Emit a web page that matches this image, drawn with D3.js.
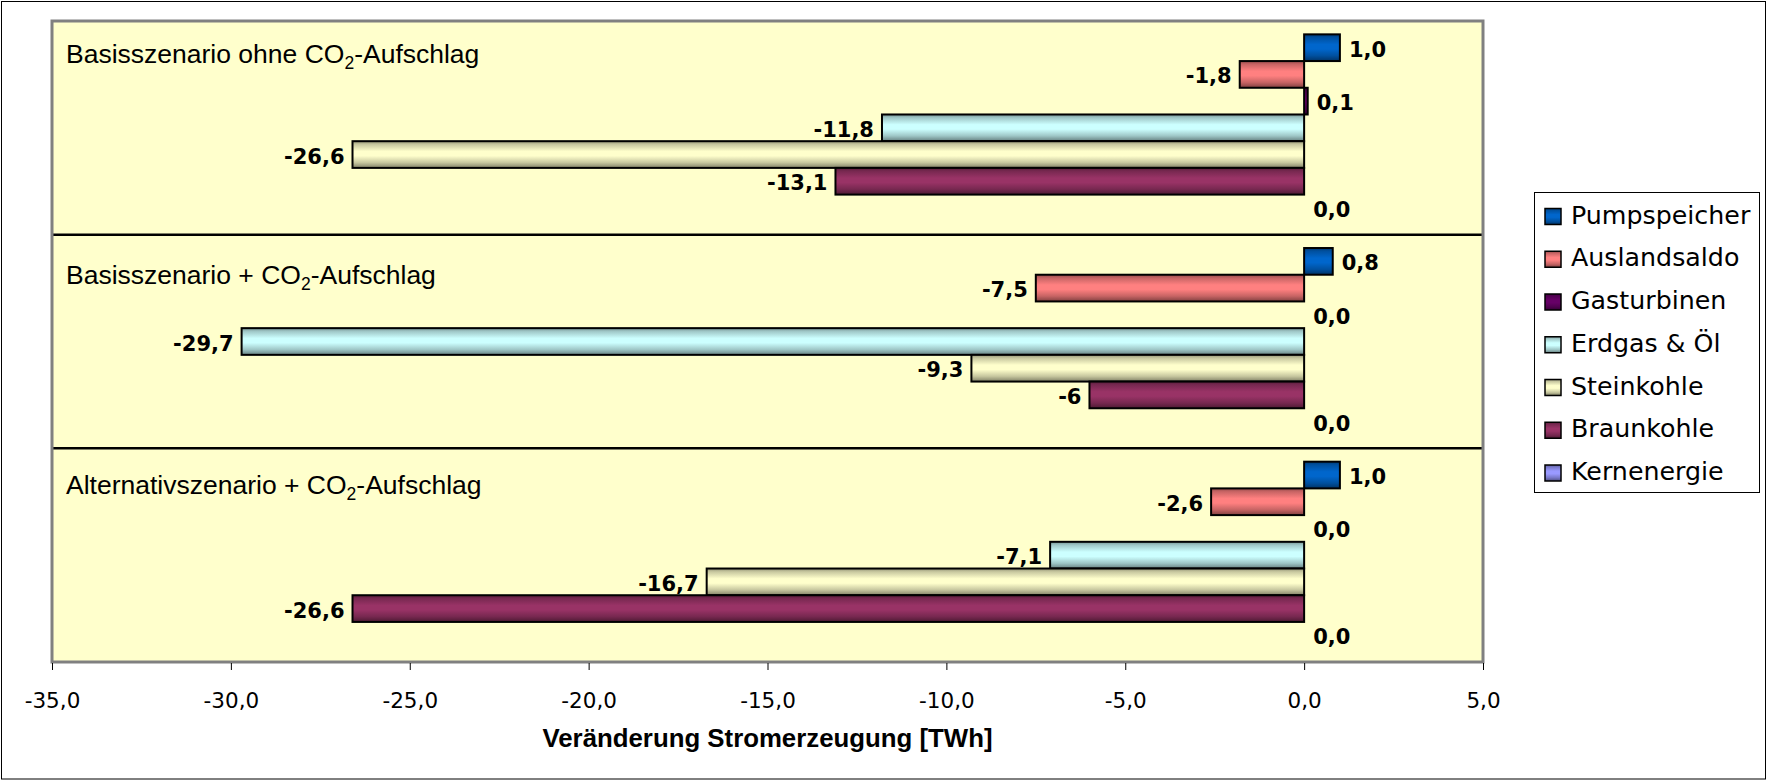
<!DOCTYPE html>
<html>
<head>
<meta charset="utf-8">
<script src="https://cdn.jsdelivr.net/npm/d3@7"></script>
<style>
  body { margin: 0; background: #ffffff; }
  svg { display: block; }
</style>
</head>
<body>
<svg id="chart" width="1768" height="781"></svg>
<script>
// Scenarios (one panel each), top to bottom
const scenarios = [
  "Basisszenario ohne CO2-Aufschlag",
  "Basisszenario + CO2-Aufschlag",
  "Alternativszenario + CO2-Aufschlag"
];

// Generation technologies, in bar order within each panel
const seriesNames = ["Pumpspeicher", "Auslandsaldo", "Gasturbinen", "Erdgas & Öl", "Steinkohle", "Braunkohle", "Kernenergie"];

// Change in generation [TWh] per scenario, written as printed
const pumpspeicher = ["1,0", "0,8", "1,0"];
const auslandsaldo = ["-1,8", "-7,5", "-2,6"];
const gasturbinen  = ["0,1", "0,0", "0,0"];
const erdgasOel    = ["-11,8", "-29,7", "-7,1"];
const steinkohle   = ["-26,6", "-9,3", "-16,7"];
const braunkohle   = ["-13,1", "-6", "-26,6"];
const kernenergie  = ["0,0", "0,0", "0,0"];

// Axis tick values
const xTicks = [-35, -30, -25, -20, -15, -10, -5, 0, 5];
const xTitle = "Veränderung Stromerzeugung [TWh]";

// Series fill colours
const seriesColors = ["#0066CC", "#FF8080", "#660066", "#CCFFFF", "#FFFFCC", "#993366", "#9999FF"];

const seriesValues = [pumpspeicher, auslandsaldo, gasturbinen, erdgasOel, steinkohle, braunkohle, kernenergie];
const parseNum = s => +s.replace(",", ".");

const rows = [];
scenarios.forEach((sc, i) => {
  seriesNames.forEach((name, j) => {
    const label = seriesValues[j][i];
    rows.push({ scenario: sc, series: name, idx: j, label, value: parseNum(label) });
  });
});

const W = 1768, H = 781;
const plot = { left: 52, right: 1483, top: 21, bottom: 662 };
// Baseline of each panel title below the top of its panel
const panelTitleDrop = [41.5, 49, 46];

const svg = d3.select("#chart");

const locale = d3.formatLocale({ decimal: ",", thousands: ".", grouping: [3], currency: ["", " €"], minus: "-" });
const fmt = locale.format(".1f");

const x = d3.scaleLinear().domain([-35, 5]).range([plot.left, plot.right]);
const y0 = d3.scaleBand().domain(scenarios).range([plot.top, plot.bottom]).paddingInner(0).paddingOuter(0);
const y1 = d3.scaleBand().domain(seriesNames).range([0, y0.bandwidth()]).paddingInner(0).paddingOuter(0.5);

// Shaded fills: darker edges, light band in the upper middle
const defs = svg.append("defs");
seriesColors.forEach((c, j) => {
  const g = defs.append("linearGradient")
    .attr("id", "grad" + j)
    .attr("x1", 0).attr("y1", 0).attr("x2", 0).attr("y2", 1);
  const shade = t => d3.interpolateRgb(c, "#000000")(t);
  [[0, 0.42], [0.12, 0.22], [0.38, 0], [0.55, 0], [0.8, 0.22], [1, 0.5]].forEach(([o, t]) => {
    g.append("stop").attr("offset", o).attr("stop-color", shade(t));
  });
});

// Outer frame
svg.append("rect")
  .attr("x", 1.5).attr("y", 1.5)
  .attr("width", W - 4).attr("height", H - 3.5)
  .attr("fill", "#ffffff").attr("stroke", "#000000").attr("stroke-width", 1);

// Plot area background
svg.append("rect")
  .attr("x", plot.left).attr("y", plot.top)
  .attr("width", plot.right - plot.left).attr("height", plot.bottom - plot.top)
  .attr("fill", "#FFFFCC");

// Bars
const barG = svg.append("g");
barG.selectAll("rect")
  .data(rows.filter(d => d.value !== 0))
  .join("rect")
  .attr("x", d => Math.min(x(0), x(d.value)))
  .attr("y", d => y0(d.scenario) + y1(d.series))
  .attr("width", d => Math.abs(x(d.value) - x(0)))
  .attr("height", y1.bandwidth())
  .attr("fill", d => `url(#grad${d.idx})`)
  .attr("stroke", "#000000")
  .attr("stroke-width", 2);

// Value labels
svg.append("g").selectAll("text")
  .data(rows)
  .join("text")
  .attr("x", d => d.value >= 0 ? x(d.value) + 9 : x(d.value) - 8)
  .attr("y", d => y0(d.scenario) + y1(d.series) + y1.bandwidth() / 2 + 9)
  .attr("text-anchor", d => d.value >= 0 ? "start" : "end")
  .attr("font-family", "DejaVu Sans")
  .attr("font-weight", "bold")
  .attr("font-size", 21)
  .attr("fill", "#000000")
  .text(d => d.label);

// Panel separators
svg.append("g").selectAll("line")
  .data(scenarios.slice(1))
  .join("line")
  .attr("x1", plot.left).attr("x2", plot.right)
  .attr("y1", d => y0(d)).attr("y2", d => y0(d))
  .attr("stroke", "#000000").attr("stroke-width", 2.5);

// Panel titles with subscript in CO2
const titles = svg.append("g").selectAll("text")
  .data(scenarios)
  .join("text")
  .attr("x", 66)
  .attr("y", (d, i) => y0(d) + panelTitleDrop[i])
  .attr("font-family", "Liberation Sans, Arial, sans-serif")
  .attr("font-size", 26.5)
  .attr("fill", "#000000");
titles.each(function(d) {
  const t = d3.select(this);
  const [pre, post] = d.split("CO2");
  t.append("tspan").text(pre + "CO");
  t.append("tspan").attr("font-size", 17.5).attr("dy", 6).text("2");
  t.append("tspan").attr("dy", -6).text(post);
});

// Plot area border
svg.append("rect")
  .attr("x", plot.left).attr("y", plot.top)
  .attr("width", plot.right - plot.left).attr("height", plot.bottom - plot.top)
  .attr("fill", "none").attr("stroke", "#808080").attr("stroke-width", 3);

// X axis
const axisG = svg.append("g")
  .attr("transform", `translate(0,${plot.bottom})`)
  .call(d3.axisBottom(x).tickValues(xTicks).tickSize(8).tickFormat(fmt));
axisG.select(".domain").remove();
axisG.selectAll(".tick line").attr("stroke", "#000000").attr("stroke-width", 1).attr("y1", 1);
axisG.selectAll(".tick text")
  .attr("y", 46).attr("dy", 0)
  .attr("font-family", "DejaVu Sans")
  .attr("font-size", 21.5)
  .attr("fill", "#000000");

// Axis title
svg.append("text")
  .attr("x", (plot.left + plot.right) / 2)
  .attr("y", 747)
  .attr("text-anchor", "middle")
  .attr("font-family", "Liberation Sans, Arial, sans-serif")
  .attr("font-weight", "bold")
  .attr("font-size", 25.8)
  .attr("fill", "#000000")
  .text(xTitle);

// Legend
const legend = { x: 1534.5, y: 192.5, w: 225, h: 300, rowTop: 214.5, rowStep: 42.75 };
const lg = svg.append("g");
lg.append("rect")
  .attr("x", legend.x).attr("y", legend.y)
  .attr("width", legend.w).attr("height", legend.h)
  .attr("fill", "#ffffff").attr("stroke", "#000000").attr("stroke-width", 1);
const items = lg.selectAll("g.item")
  .data(seriesNames)
  .join("g")
  .attr("class", "item")
  .attr("transform", (d, i) => `translate(0,${legend.rowTop + i * legend.rowStep})`);
items.append("rect")
  .attr("x", 1545).attr("y", -6)
  .attr("width", 16).attr("height", 16)
  .attr("fill", (d, i) => `url(#grad${i})`)
  .attr("stroke", "#000000").attr("stroke-width", 1.5);
items.append("text")
  .attr("x", 1571).attr("y", 9)
  .attr("font-family", "DejaVu Sans")
  .attr("font-size", 25.3)
  .attr("fill", "#000000")
  .text(d => d);
</script>
</body>
</html>
